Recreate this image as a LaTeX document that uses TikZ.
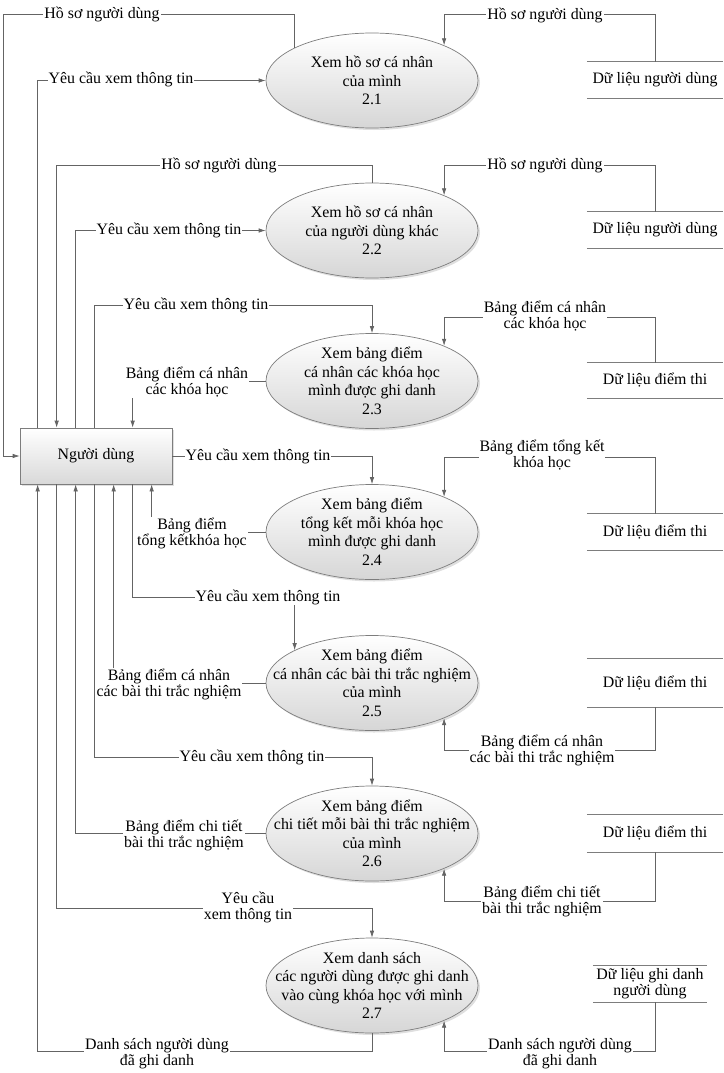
\documentclass[tikz,border=0pt]{standalone}
\usepackage{fontspec}
\setmainfont{Liberation Serif}
\usepackage{tikz}
\usetikzlibrary{shapes.geometric,shadows,arrows.meta,positioning}
\definecolor{flowgray}{RGB}{100,100,100}
\definecolor{shapegray}{RGB}{125,125,125}

\begin{document}
\begin{tikzpicture}[x=1pt, y=-1pt, >={Latex[length=7pt,width=4.5pt]},
	font=\fontsize{15.9}{16}\selectfont,
	proc/.style={ellipse, draw=shapegray, line width=0.7pt, top color=white, bottom color=black!16, minimum width=212pt, minimum height=95pt, inner sep=0pt, drop shadow={shadow xshift=2pt, shadow yshift=-2pt, opacity=0.25}},
	ptext/.style={align=center, font=\fontsize{15.9}{18.5}\selectfont},
	actor/.style={rectangle, draw=shapegray, line width=0.7pt, top color=white, bottom color=black!15, minimum width=152pt, minimum height=56pt, drop shadow={shadow xshift=2pt, shadow yshift=-2pt, opacity=0.25}},
	store/.style={minimum width=136pt, minimum height=36pt, inner sep=0pt, align=center},
	flow/.style={draw=flowgray, line width=0.7pt, ->},
	lbl/.style={fill=white, align=center, inner sep=1pt}]

	\useasboundingbox (0,0) rectangle (723,1073);

	\node[actor] (user) at (96,456) {Người dùng};
	\foreach \i in {0,...,6} {
		\coordinate (t\i) at ([xshift=18pt+19pt*\i]user.north west);
		\coordinate (b\i) at ([xshift=18pt+19pt*\i]user.south west);
	}

	\node[proc] (p1) at (372,80.5) {};
	\node[proc] (p2) at (372,230.5) {};
	\node[proc] (p3) at (372,381) {};
	\node[proc] (p4) at (372,532) {};
	\node[proc] (p5) at (372,683) {};
	\node[proc] (p6) at (372,833.5) {};
	\node[proc] (p7) at (372,985.5) {};
	\node[ptext] (p1t) at (p1) {Xem hồ sơ cá nhân\\của mình\\2.1};
	\node[ptext] (p2t) at (p2) {Xem hồ sơ cá nhân\\của người dùng khác\\2.2};
	\node[ptext] (p3t) at (p3) {Xem bảng điểm\\cá nhân các khóa học\\mình được ghi danh\\2.3};
	\node[ptext] (p4t) at (p4) {Xem bảng điểm\\tổng kết mỗi khóa học\\mình được ghi danh\\2.4};
	\node[ptext] (p5t) at (p5) {Xem bảng điểm\\cá nhân các bài thi trắc nghiệm\\của mình\\2.5};
	\node[ptext] (p6t) at (p6) {Xem bảng điểm\\chi tiết mỗi bài thi trắc nghiệm\\của mình\\2.6};
	\node[ptext] (p7t) at (p7) {Xem danh sách\\các người dùng được ghi danh\\vào cùng khóa học với mình\\2.7};

	\node[store] (s1) at (655,80) {Dữ liệu người dùng};
	\node[store] (s2) at (655,230) {Dữ liệu người dùng};
	\node[store, minimum height=35pt] (s3) at (655,380.5) {Dữ liệu điểm thi};
	\node[store] (s4) at (655,532) {Dữ liệu điểm thi};
	\node[store, minimum height=48pt] (s5) at (655,683) {Dữ liệu điểm thi};
	\node[store, minimum height=37pt] (s6) at (655,833.5) {Dữ liệu điểm thi};
	\node[store, minimum width=114pt] (s7) at (650,984) {Dữ liệu ghi danh\\người dùng};
	\foreach \s in {s1,s2,s3,s4,s5,s6,s7}
		\draw[shapegray, line width=0.7pt] (\s.north west) -- (\s.north east) (\s.south west) -- (\s.south east);

	\draw[flow] (p1.157) |- (3,14) |- (user.west);
	\draw[flow] (t0) |- (p1.west);
	\draw[flow] (p2.north) -- (p2.north |- 0,165) -| (t1);
	\draw[flow] (t2) |- (p2.west);
	\draw[flow] (t3) -- (t3 |- 0,305) -| (p3.north);
	\draw[flow] (p3.west) -| (t5);
	\draw[flow] (user.east) -| (p4.north);
	\draw[flow] (p4.west) -| (b6);
	\draw[flow] (b5) -- (b5 |- 0,597) -| (p5.157);
	\draw[flow] (p5.west) -| (b4);
	\draw[flow] (b3) -- (b3 |- 0,757) -| (p6.north);
	\draw[flow] (p6.west) -| (b2);
	\draw[flow] (b1) -- (b1 |- 0,908) -| (p7.north);
	\draw[flow] (p7.south) -- (p7.south |- 0,1051) -| (b0);

	\draw[flow] (s1.north) -- (s1.north |- 0,14) -| (p1.26);
	\draw[flow] (s2.north) -- (s2.north |- 0,165) -| (p2.26);
	\draw[flow] (s3.north) -- (s3.north |- 0,317) -| (p3.26);
	\draw[flow] (s4.north) -- (s4.north |- 0,457) -| (p4.26);
	\draw[flow] (s5.south) -- (s5.south |- 0,750) -| (p5.-26);
	\draw[flow] (s6.south) -- (s6.south |- 0,901) -| (p6.-26);
	\draw[flow] ([xshift=5pt]s7.south) -- ([xshift=5pt]s7.south |- 0,1051) -| (p7.-26);

	\node[lbl] (l1) at (102,14) {Hồ sơ người dùng};
	\node[lbl] (l2) at (121,79) {Yêu cầu xem thông tin};
	\node[lbl] (l3) at (219,165) {Hồ sơ người dùng};
	\node[lbl] (l4) at (169,230) {Yêu cầu xem thông tin};
	\node[lbl] (l5) at (196,305) {Yêu cầu xem thông tin};
	\node[lbl] (l6) at (187,382) {Bảng điểm cá nhân\\các khóa học};
	\node[lbl] (l7) at (258,456) {Yêu cầu xem thông tin};
	\node[lbl] (l8) at (192,533) {Bảng điểm\\tổng kếtkhóa học};
	\node[lbl] (l9) at (268,597) {Yêu cầu xem thông tin};
	\node[lbl] (l10) at (169,684) {Bảng điểm cá nhân\\các bài thi trắc nghiệm};
	\node[lbl] (l11) at (252,757) {Yêu cầu xem thông tin};
	\node[lbl] (l12) at (184,835) {Bảng điểm chi tiết\\bài thi trắc nghiệm};
	\node[lbl] (l13) at (248,907) {Yêu cầu\\xem thông tin};
	\node[lbl] (l14) at (157,1054) {Danh sách người dùng\\đã ghi danh};

	\node[lbl] (l15) at (545,15) {Hồ sơ người dùng};
	\node[lbl] (l16) at (545,165) {Hồ sơ người dùng};
	\node[lbl] (l17) at (545,316) {Bảng điểm cá nhân\\các khóa học};
	\node[lbl] (l18) at (542,455) {Bảng điểm tổng kết\\khóa học};
	\node[lbl] (l19) at (542,750) {Bảng điểm cá nhân\\các bài thi trắc nghiệm};
	\node[lbl] (l20) at (542,901) {Bảng điểm chi tiết\\bài thi trắc nghiệm};
	\node[lbl] (l21) at (560,1054) {Danh sách người dùng\\đã ghi danh};

\end{tikzpicture}
\end{document}
